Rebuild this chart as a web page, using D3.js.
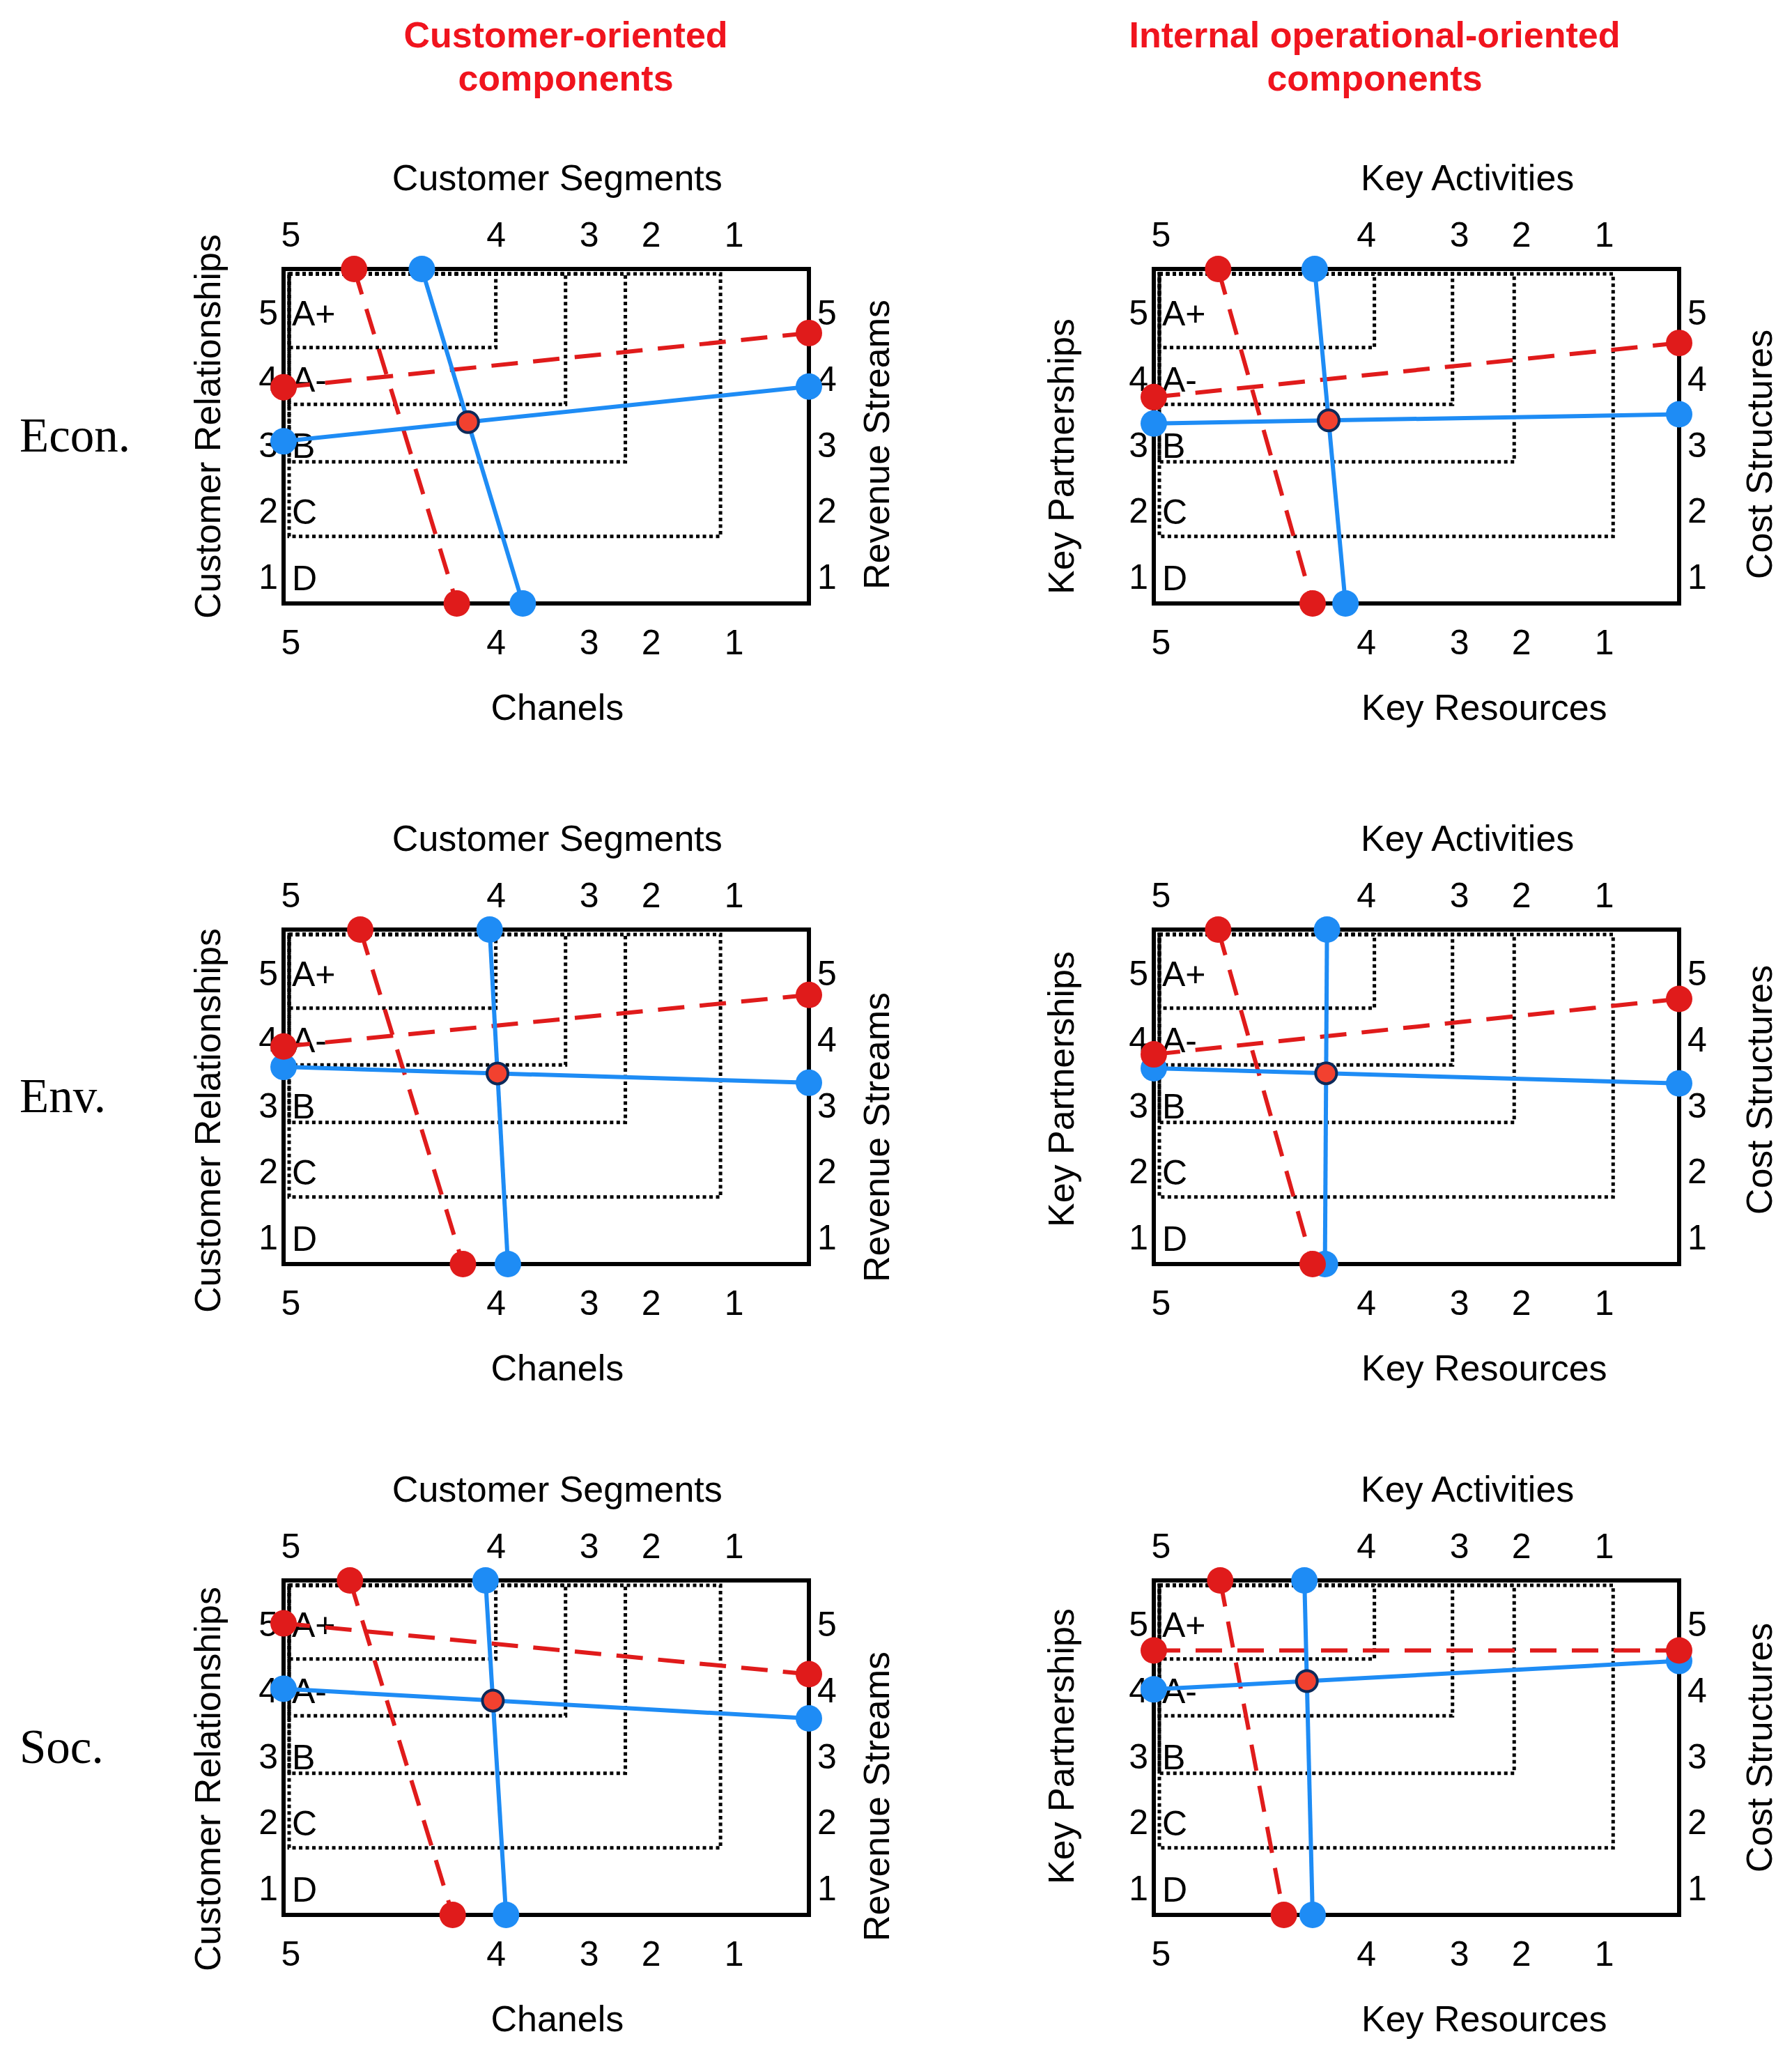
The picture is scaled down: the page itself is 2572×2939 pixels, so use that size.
<!DOCTYPE html>
<html>
<head>
<meta charset="utf-8">
<script src="https://cdn.jsdelivr.net/npm/d3@7"></script>
<style>
  body { margin: 0; background: #fff; }
  svg { display: block; }
</style>
</head>
<body>
<div id="vis"></div>
<script>
// panel order: Econ-customer, Econ-internal, Env-customer, Env-internal, Soc-customer, Soc-internal
const rowLabels = ["Econ.", "Env.", "Soc."];
const columnTitles = [["Customer-oriented", "components"], ["Internal operational-oriented", "components"]];
const topTitles = ["Customer Segments", "Key Activities"];
const bottomTitles = ["Chanels", "Key Resources"];
const leftTitles = ["Customer Relationships", "Key Partnerships"];
const rightTitles = ["Revenue Streams", "Cost Structures"];

const xTicks = [5, 4, 3, 2, 1];
const yTicks = [5, 4, 3, 2, 1];
const grades = ["A+", "A-", "B", "C", "D"];
const gradeYBounds = [4.48, 3.62, 2.75, 1.62];
const gradeXBounds = [[4.0, 3.25, 2.41, 1.16], [3.91, 3.07, 2.11, 0.89]];

// red dashed series
const redTop    = [4.69, 4.72, 4.66, 4.72, 4.71, 4.71];
const redBottom = [4.19, 4.26, 4.16, 4.26, 4.21, 4.40];
const redLeft   = [3.88, 3.73, 3.90, 3.78, 5.02, 4.61];
const redRight  = [4.70, 4.55, 4.68, 4.62, 4.25, 4.61];
// blue solid series
const blueTop    = [4.36, 4.25, 4.03, 4.19, 4.05, 4.30];
const blueBottom = [3.71, 4.10, 3.87, 4.20, 3.89, 4.26];
const blueLeft   = [3.06, 3.33, 3.59, 3.57, 4.03, 4.02];
const blueRight  = [3.89, 3.47, 3.35, 3.34, 3.58, 4.45];

(function () {
    const W = 2572, H = 2939;
    const colX = [407, 1656], rowY = [386, 1334, 2268];
    const boxW = 754, boxH = 480;
    const xTickFrac = [0.013, 0.404, 0.581, 0.699, 0.857];
    const sans = "'Liberation Sans', Arial, Helvetica, sans-serif";
    const serif = "'Liberation Serif', 'Times New Roman', serif";
    const red = "#e01b1b", blue = "#1e8cf5", titleRed = "#f0141e";
    const topTitleFrac = [0.521, 0.597], bottomTitleFrac = [0.521, 0.629];
    const leftTitleDx = [-110, -134], rightTitleDx = [96, 114];
    const leftTitleDy = [-14, 29, 34, -11, 45, -2];
    const rightTitleDy = [12, 26, 58, -10, 70, 0];

    const svg = d3.select("#vis").append("svg")
        .attr("width", W)
        .attr("height", H);
    svg.append("rect").attr("width", W).attr("height", H).attr("fill", "#fff");

    const colTitleX = [812, 1973];
    columnTitles.forEach((lines, c) => {
        svg.append("text")
            .attr("text-anchor", "middle")
            .attr("font-family", sans)
            .attr("font-weight", "bold")
            .attr("font-size", 52)
            .attr("fill", titleRed)
            .selectAll("tspan")
            .data(lines)
            .join("tspan")
            .attr("x", colTitleX[c])
            .attr("y", (d, i) => 68 + i * 62)
            .text(d => d);
    });

    rowLabels.forEach((name, r) => {
        svg.append("text")
            .attr("x", 28)
            .attr("y", rowY[r] + boxH / 2 + 22)
            .attr("font-family", serif)
            .attr("font-size", 69)
            .text(name);
        drawPanel(r, 0);
        drawPanel(r, 1);
    });

    function intersect(a1, a2, b1, b2) {
        const d = (a2[0] - a1[0]) * (b2[1] - b1[1]) - (a2[1] - a1[1]) * (b2[0] - b1[0]);
        const t = ((b1[0] - a1[0]) * (b2[1] - b1[1]) - (b1[1] - a1[1]) * (b2[0] - b1[0])) / d;
        return [a1[0] + t * (a2[0] - a1[0]), a1[1] + t * (a2[1] - a1[1])];
    }

    function drawPanel(r, c) {
        const p = r * 2 + c;
        const x0 = colX[c], y0 = rowY[r];
        const g = svg.append("g");

        const x = d3.scaleLinear()
            .domain(xTicks)
            .range(xTickFrac.map(f => x0 + f * boxW));
        const y = d3.scaleLinear()
            .domain([5.67, 0.605])
            .range([y0, y0 + boxH]);

        // dotted grade zones
        g.selectAll(".zone")
            .data(gradeYBounds.map((by, i) => ({ by, bx: gradeXBounds[c][i] })))
            .join("rect")
            .attr("x", x0 + 8)
            .attr("y", y0 + 7)
            .attr("width", d => x(d.bx) - x0 - 8)
            .attr("height", d => y(d.by) - y0 - 7)
            .attr("fill", "none")
            .attr("stroke", "#000")
            .attr("stroke-width", 5)
            .attr("stroke-dasharray", "5,4.5");

        g.selectAll(".grade")
            .data(yTicks)
            .join("text")
            .attr("x", x0 + 12)
            .attr("y", d => y(d))
            .attr("dy", "0.36em")
            .attr("font-family", sans)
            .attr("font-size", 50)
            .text((d, i) => grades[i]);

        g.append("rect")
            .attr("x", x0)
            .attr("y", y0)
            .attr("width", boxW)
            .attr("height", boxH)
            .attr("fill", "none")
            .attr("stroke", "#000")
            .attr("stroke-width", 6);

        const styleAxis = sel => {
            sel.attr("font-size", 50).attr("font-family", sans);
            sel.select(".domain").remove();
        };
        g.append("g")
            .attr("transform", `translate(0,${y0})`)
            .call(d3.axisTop(x).tickValues(xTicks).tickSize(0).tickPadding(32).tickFormat(d3.format("d")))
            .call(styleAxis);
        g.append("g")
            .attr("transform", `translate(0,${y0 + boxH})`)
            .call(d3.axisBottom(x).tickValues(xTicks).tickSize(0).tickPadding(37).tickFormat(d3.format("d")))
            .call(styleAxis);
        g.append("g")
            .attr("transform", `translate(${x0},0)`)
            .call(d3.axisLeft(y).tickValues(yTicks).tickSize(0).tickPadding(8).tickFormat(d3.format("d")))
            .call(styleAxis);
        g.append("g")
            .attr("transform", `translate(${x0 + boxW},0)`)
            .call(d3.axisRight(y).tickValues(yTicks).tickSize(0).tickPadding(12).tickFormat(d3.format("d")))
            .call(styleAxis);

        const title = (txt, tx, ty, rot) => g.append("text")
            .attr("transform", `translate(${tx},${ty}) rotate(${rot})`)
            .attr("text-anchor", "middle")
            .attr("dy", "0.36em")
            .attr("font-family", sans)
            .attr("font-size", 52)
            .text(txt);
        title(topTitles[c], x0 + topTitleFrac[c] * boxW, y0 - 132, 0);
        title(bottomTitles[c], x0 + bottomTitleFrac[c] * boxW, y0 + boxH + 148, 0);
        title(leftTitles[c], x0 + leftTitleDx[c], y0 + boxH / 2 + leftTitleDy[p], -90);
        title(rightTitles[c], x0 + boxW + rightTitleDx[c], y0 + boxH / 2 + rightTitleDy[p], -90);

        const series = [
            { name: "red", color: red, dash: "38,22", top: redTop[p], bottom: redBottom[p], left: redLeft[p], right: redRight[p] },
            { name: "blue", color: blue, dash: null, top: blueTop[p], bottom: blueBottom[p], left: blueLeft[p], right: blueRight[p] }
        ];
        series.forEach(s => {
            s.pts = {
                top: [x(s.top), y0],
                bottom: [x(s.bottom), y0 + boxH],
                left: [x0, y(s.left)],
                right: [x0 + boxW, y(s.right)]
            };
        });

        const line = d3.line();
        series.forEach(s => {
            [[s.pts.top, s.pts.bottom], [s.pts.left, s.pts.right]].forEach(seg => {
                g.append("path")
                    .attr("d", line(seg))
                    .attr("fill", "none")
                    .attr("stroke", s.color)
                    .attr("stroke-width", 6)
                    .attr("stroke-dasharray", s.dash);
            });
        });

        [series[1], series[0]].forEach(s => {
            g.selectAll(`.dot-${s.name}`)
                .data(Object.values(s.pts))
                .join("circle")
                .attr("cx", d => d[0])
                .attr("cy", d => d[1])
                .attr("r", 19)
                .attr("fill", s.color);
        });

        const b = series[1].pts;
        const cross = intersect(b.top, b.bottom, b.left, b.right);
        g.append("circle")
            .attr("cx", cross[0])
            .attr("cy", cross[1])
            .attr("r", 15)
            .attr("fill", "#f2412f")
            .attr("stroke", "#0c2a5a")
            .attr("stroke-width", 4);
    }
})();
</script>
</body>
</html>
